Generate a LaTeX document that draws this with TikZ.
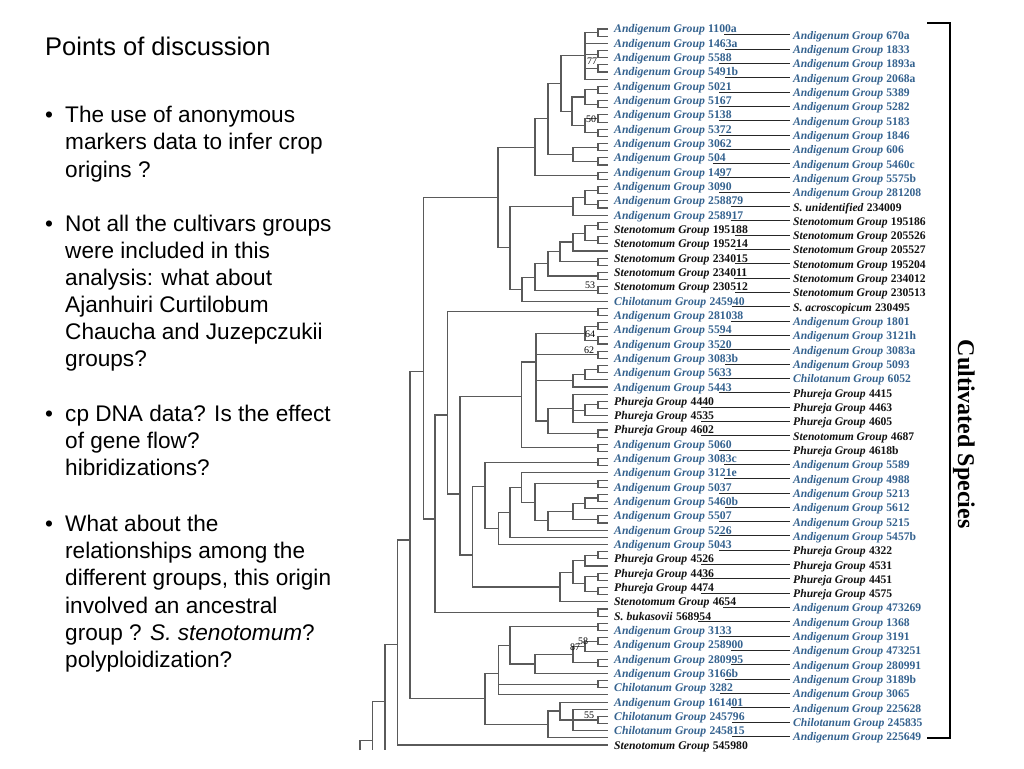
\documentclass[tikz,border=0pt]{standalone}
\usepackage{fontspec}
\setmainfont{Liberation Serif}
\newfontfamily\sansf{Liberation Sans}
\usetikzlibrary{calc}
\definecolor{lb}{HTML}{34628F}
\definecolor{lk}{HTML}{111111}
\definecolor{treec}{HTML}{5A5A5A}
\newcommand\nd[4]{\path let \p1=(#3), \p2=(#4) in (#2pt,{0.5*(\y1+\y2)}) coordinate (#1);}
\newcommand\ndy[3]{\coordinate (#1) at (#2,#3);}
\newcommand\eds[2]{\foreach \cc in {#2}{\draw[treeline] (#1) |- (\cc);}}
\newcommand\pr[2]{\nd{P#1}{598}{a#1}{a#2}\draw[treeline] (a#1) -| (P#1) |- (a#2);}
\tikzset{
  treeline/.style={draw=treec, line width=1.1pt},
  rline/.style={draw=black!85, line width=0.8pt},
  lg/.style={font=\fontsize{11.7}{12}\selectfont\bfseries\itshape, inner sep=0pt},
  ln/.style={font=\fontsize{11.7}{12}\selectfont\bfseries, inner sep=0pt},
  rg/.style={font=\fontsize{11.6}{12}\selectfont\bfseries\itshape, inner sep=0pt},
  rn/.style={font=\fontsize{11.6}{12}\selectfont\bfseries, inner sep=0pt},
  bs/.style={font=\fontsize{10}{10}\selectfont, inner sep=0.3pt},
  body/.style={anchor=base west, font=\sansf\fontsize{22.6}{22.6}\selectfont, inner sep=0pt},
}
\begin{document}
\begin{tikzpicture}[x=1pt,y=-1pt]
\fill[white] (0,0) rectangle (1024,768);
\useasboundingbox (0,0) rectangle (1024,768);

% ---------- left panel ----------
\node[anchor=base west, font=\sansf\fontsize{25.5}{25.5}\selectfont, inner sep=0pt] (title) at (45,56) {Points of discussion};
\node[body] (b1) at (45,122) {•};
\node[body] (t11) at (65,122) {The use of anonymous};
\node[body] (t12) at (65,149) {markers data to infer crop};
\node[body] (t13) at (65,177) {origins ?};
\node[body] (b2) at (45,231) {•};
\node[body] (t21) at (65,231) {Not all the cultivars groups};
\node[body] (t22) at (65,258) {were included in this};
\node[body] (t23) at (65,285) {analysis: what about};
\node[body] (t24) at (65,312) {Ajanhuiri Curtilobum};
\node[body] (t25) at (65,339) {Chaucha and Juzepczukii};
\node[body] (t26) at (65,366) {groups?};
\node[body] (b3) at (45,421) {•};
\node[body] (t31) at (65,421) {cp DNA data? Is the effect};
\node[body] (t32) at (65,448) {of gene flow?};
\node[body] (t33) at (65,475) {hibridizations?};
\node[body] (b4) at (45,531) {•};
\node[body] (t41) at (65,531) {What about the};
\node[body] (t42) at (65,558) {relationships among the};
\node[body] (t43) at (65,585) {different groups, this origin};
\node[body] (t44) at (65,613) {involved an ancestral};
\node[body] (t45) at (65,640) {group ? \textit{S. stenotomum}?};
\node[body] (t46) at (65,667) {polyploidization?};

% ---------- leaves ----------
\foreach \k in {0,...,100}{\coordinate (a\k) at (608,{29+7.16*\k});}

% top cluster
\pr{0}{1}\pr{3}{4}\pr{5}{6}
\nd{T1}{585}{P0}{a7}\eds{T1}{P0,a2,P3,P5,a7}
\pr{8}{9}\pr{10}{11}\nd{A1}{585}{P8}{P10}\eds{A1}{P8,P10}
\pr{12}{13}\pr{14}{15}\nd{N50}{585}{P12}{P14}\eds{N50}{P12,P14}
\nd{B1}{572}{A1}{N50}\eds{B1}{A1,N50}
\nd{T2}{561}{T1}{B1}\eds{T2}{T1,B1}
\pr{16}{17}\pr{18}{19}\nd{C1}{573}{P16}{P18}\eds{C1}{P16,P18}
\nd{T3}{548}{T2}{C1}\eds{T3}{T2,C1}
\pr{20}{21}
\nd{D1}{535}{T3}{P20}\eds{D1}{T3,P20}
\pr{22}{23}\pr{24}{25}\nd{F1}{585}{P22}{P24}\eds{F1}{P22,P24}
\nd{E1}{573}{F1}{a26}\eds{E1}{F1,a26}
\pr{27}{28}\pr{29}{30}\nd{H1}{585}{P27}{P29}\eds{H1}{P27,P29}
\nd{H2}{573}{H1}{a31}\eds{H2}{H1,a31}
\pr{32}{33}\nd{H3}{560}{H2}{P32}\eds{H3}{H2,P32}
\pr{34}{35}\nd{H4}{548}{H3}{P34}\eds{H4}{H3,P34}
\pr{36}{37}\nd{G1}{535}{H4}{P36}\eds{G1}{H4,P36}
\nd{G2}{522}{G1}{a38}\eds{G2}{G1,a38}
\nd{G3}{510}{E1}{G2}\eds{G3}{E1,G2}
\nd{TOP}{498}{D1}{G3}\eds{TOP}{D1,G3}

% middle
\pr{39}{40}
\pr{41}{42}\pr{43}{44}\nd{N64}{585}{P41}{P43}\eds{N64}{P41,P43}
\pr{45}{46}
\pr{47}{48}\nd{K0}{585}{P47}{a49}\eds{K0}{P47,a49}
\nd{K1}{573}{K0}{a50}\eds{K1}{K0,a50}
\pr{52}{53}\nd{Q1}{585}{P52}{a54}\eds{Q1}{P52,a54}
\nd{Q2}{573}{a51}{a55}\eds{Q2}{a51,Q1,a55}
\pr{56}{57}
\nd{M1}{548}{Q2}{P56}\eds{M1}{Q2,P56}
\ndy{U1}{536}{362}\eds{U1}{N64,P45,K1,M1}
\pr{58}{59}
\ndy{V1}{521.7}{396.7}\eds{V1}{U1,P58}
\pr{60}{61}\pr{63}{64}\pr{65}{66}
\nd{N1}{585}{P65}{a67}\eds{N1}{P65,a67}
\pr{68}{69}\nd{N2}{573}{N1}{P68}\eds{N2}{N1,P68}
\nd{N3}{548}{N2}{a70}\eds{N3}{N2,a70}
\nd{W1}{535}{P63}{N3}\eds{W1}{P63,N3}
\nd{W2}{521.7}{a62}{W1}\eds{W2}{a62,W1}
\nd{W3}{510}{W2}{a71}\eds{W3}{W2,a71}
\nd{W4}{498.3}{W3}{a72}\eds{W4}{W3,a72}
\ndy{W5}{485}{486.7}\eds{W5}{P60,W4}
\pr{73}{74}\nd{X1}{585}{P73}{a75}\eds{X1}{P73,a75}
\pr{76}{77}\pr{78}{79}\nd{X2}{585}{P76}{P78}\eds{X2}{P76,P78}
\nd{X3}{573}{X1}{X2}\eds{X3}{X1,X2}
\nd{X4}{560}{X3}{a80}\eds{X4}{X3,a80}
\ndy{W6}{472.3}{555}\eds{W6}{W5,X4}
\ndy{W7}{460}{494}\eds{W7}{V1,W6}
\ndy{W8}{447.7}{415}\eds{W8}{P39,W7}
\pr{81}{82}
\ndy{W9}{435}{519}\eds{W9}{W8,P81}
\ndy{Z1}{423.3}{371.7}\eds{Z1}{TOP,W9}

% bottom
\pr{83}{84}\pr{85}{86}\nd{N58}{585}{P85}{a87}\eds{N58}{P85,a87}
\pr{88}{89}\nd{N87}{573}{N58}{P88}\eds{N87}{N58,P88}
\nd{S1}{535}{N87}{a90}\eds{S1}{N87,a90}
\nd{S2}{510}{P83}{S1}\eds{S2}{P83,S1}
\pr{91}{92}\ndy{S3}{498.3}{673.3}\eds{S3}{S2,P91,a93}
\pr{96}{97}\nd{Y1}{573}{a95}{a98}\eds{Y1}{a95,P96,a98}
\nd{Y2}{560}{a94}{Y1}\eds{Y2}{a94,Y1}
\nd{Y3}{548}{Y2}{a99}\eds{Y3}{Y2,a99}
\ndy{S4}{485}{698.3}\eds{S4}{S3,Y3}
\ndy{Z2}{410}{540}\eds{Z2}{Z1,S4}
\ndy{RA}{397.7}{644.3}\eds{RA}{Z2,a100}
\coordinate (RB) at (385,701.7); \coordinate (RBe) at (385,750);
\coordinate (RC) at (372.3,740.7); \coordinate (RCe) at (372.3,750);
\coordinate (RD) at (360,750);
\draw[treeline] (RB) |- (RA); \draw[treeline] (RB) -- (RBe);
\draw[treeline] (RC) |- (RB); \draw[treeline] (RC) -- (RCe);
\draw[treeline] (RD) |- (RC);

% bootstrap values
\node[bs] (bs77) at (592,61) {77};
\node[bs] (bs50) at (591,119) {50};
\node[bs] (bs53) at (590,285) {53};
\node[bs] (bs64) at (590,334) {64};
\node[bs] (bs62) at (589,350) {62};
\node[bs] (bs87) at (575,647) {87};
\node[bs] (bs58) at (583,641) {58};
\node[bs] (bs55) at (589,715) {55};

% ---------- labels ----------
\foreach \k/\cl/\gn/\nm in {
0/lb/Andigenum Group/1100a,1/lb/Andigenum Group/670a,2/lb/Andigenum Group/1463a,3/lb/Andigenum Group/1833,
4/lb/Andigenum Group/5588,5/lb/Andigenum Group/1893a,6/lb/Andigenum Group/5491b,7/lb/Andigenum Group/2068a,
8/lb/Andigenum Group/5021,9/lb/Andigenum Group/5389,10/lb/Andigenum Group/5167,11/lb/Andigenum Group/5282,
12/lb/Andigenum Group/5138,13/lb/Andigenum Group/5183,14/lb/Andigenum Group/5372,15/lb/Andigenum Group/1846,
16/lb/Andigenum Group/3062,17/lb/Andigenum Group/606,18/lb/Andigenum Group/504,19/lb/Andigenum Group/5460c,
20/lb/Andigenum Group/1497,21/lb/Andigenum Group/5575b,22/lb/Andigenum Group/3090,23/lb/Andigenum Group/281208,
24/lb/Andigenum Group/258879,25/lk/S. unidentified/234009,26/lb/Andigenum Group/258917,27/lk/Stenotomum Group/195186,
28/lk/Stenotomum Group/195188,29/lk/Stenotomum Group/205526,30/lk/Stenotomum Group/195214,31/lk/Stenotomum Group/205527,
32/lk/Stenotomum Group/234015,33/lk/Stenotomum Group/195204,34/lk/Stenotomum Group/234011,35/lk/Stenotomum Group/234012,
36/lk/Stenotomum Group/230512,37/lk/Stenotomum Group/230513,38/lb/Chilotanum Group/245940,39/lk/S. acroscopicum/230495,
40/lb/Andigenum Group/281038,41/lb/Andigenum Group/1801,42/lb/Andigenum Group/5594,43/lb/Andigenum Group/3121h,
44/lb/Andigenum Group/3520,45/lb/Andigenum Group/3083a,46/lb/Andigenum Group/3083b,47/lb/Andigenum Group/5093,
48/lb/Andigenum Group/5633,49/lb/Chilotanum Group/6052,50/lb/Andigenum Group/5443,51/lk/Phureja Group/4415,
52/lk/Phureja Group/4440,53/lk/Phureja Group/4463,54/lk/Phureja Group/4535,55/lk/Phureja Group/4605,
56/lk/Phureja Group/4602,57/lk/Stenotomum Group/4687,58/lb/Andigenum Group/5060,59/lk/Phureja Group/4618b,
60/lb/Andigenum Group/3083c,61/lb/Andigenum Group/5589,62/lb/Andigenum Group/3121e,63/lb/Andigenum Group/4988,
64/lb/Andigenum Group/5037,65/lb/Andigenum Group/5213,66/lb/Andigenum Group/5460b,67/lb/Andigenum Group/5612,
68/lb/Andigenum Group/5507,69/lb/Andigenum Group/5215,70/lb/Andigenum Group/5226,71/lb/Andigenum Group/5457b,
72/lb/Andigenum Group/5043,73/lk/Phureja Group/4322,74/lk/Phureja Group/4526,75/lk/Phureja Group/4531,
76/lk/Phureja Group/4436,77/lk/Phureja Group/4451,78/lk/Phureja Group/4474,79/lk/Phureja Group/4575,
80/lk/Stenotomum Group/4654,81/lb/Andigenum Group/473269,82/lk/S. bukasovii/568954,83/lb/Andigenum Group/1368,
84/lb/Andigenum Group/3133,85/lb/Andigenum Group/3191,86/lb/Andigenum Group/258900,87/lb/Andigenum Group/473251,
88/lb/Andigenum Group/280995,89/lb/Andigenum Group/280991,90/lb/Andigenum Group/3166b,91/lb/Andigenum Group/3189b,
92/lb/Chilotanum Group/3282,93/lb/Andigenum Group/3065,94/lb/Andigenum Group/161401,95/lb/Andigenum Group/225628,
96/lb/Chilotanum Group/245796,97/lb/Chilotanum Group/245835,98/lb/Chilotanum Group/245815,99/lb/Andigenum Group/225649,
100/lk/Stenotomum Group/545980}{%
  \ifodd\k\relax
    \pgfmathtruncatemacro\km{\k-1}
    \coordinate (e\k) at (790,{29+7.16*\k-1.5});
    \node[rg,text=\cl,anchor=base west] (g\k) at (793,{29+7.16*\k+3}) {\gn};
    \node[rn,text=\cl,anchor=base west] (n\k) at ([xshift=2.9pt]g\k.base east) {\nm};
    \draw[rline] ([xshift=-13pt]n\km.east |- e\k) -- (e\k);
  \else
    \node[lg,text=\cl,anchor=base west] (g\k) at (614,{29+7.16*\k+4}) {\gn};
    \node[ln,text=\cl,anchor=base west] (n\k) at ([xshift=2.9pt]g\k.base east) {\nm};
  \fi
}

% ---------- cultivated species bracket ----------
\coordinate (br1) at (927,23); \coordinate (br2) at (950,23);
\coordinate (br3) at (950,738); \coordinate (br4) at (927,738);
\draw[line width=1.8pt, black] (br1) -- (br2) -- (br3) -- (br4);
\node[font=\fontsize{24}{24}\selectfont\bfseries, rotate=-90, inner sep=0pt] (cs) at (964,434) {Cultivated Species};
\end{tikzpicture}
\end{document}
